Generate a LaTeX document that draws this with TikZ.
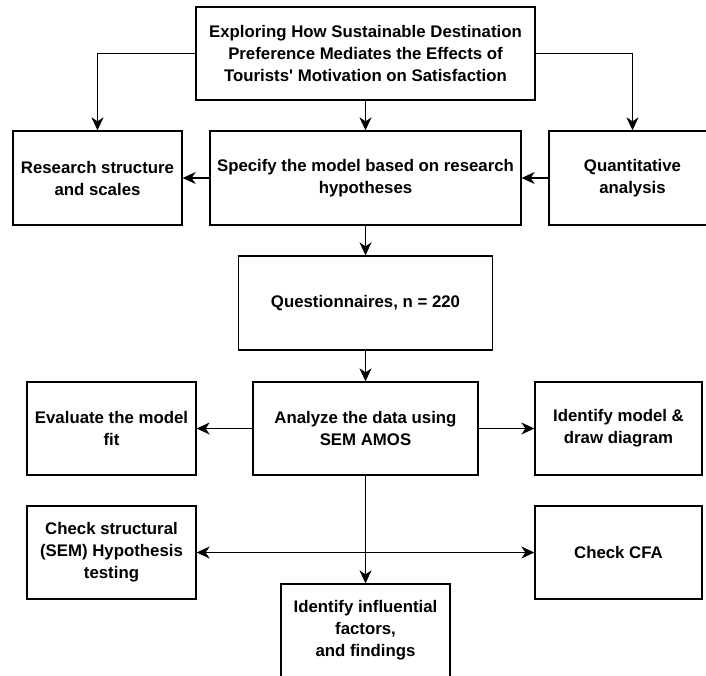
\documentclass[tikz,border=0pt]{standalone}
\usepackage{fontspec}
\setmainfont{Liberation Sans}
\usetikzlibrary{arrows.meta}

\begin{document}
\begin{tikzpicture}[x=1pt, y=-1pt,
    box/.style={draw, line width=1.3pt, align=center, inner sep=0pt, minimum height=93pt,
        font=\bfseries\fontsize{16.8}{22}\selectfont},
    link/.style={line width=1.1pt, -{Stealth[length=13pt, width=12pt, inset=4pt]}},
    twolink/.style={line width=1.1pt, {Stealth[length=13pt, width=12pt, inset=4pt]}-{Stealth[length=13pt, width=12pt, inset=4pt]}}]
    \useasboundingbox (0,0) rectangle (706,675);
    % title and first row
    \node[box, minimum width=339pt] (title) at (365.5,53.5)
        {Exploring How Sustainable Destination\\Preference Mediates the Effects of\\Tourists\textquotesingle{} Motivation on Satisfaction};
    \node[box, minimum width=169pt, minimum height=94pt] (research) at (97.5,178) {Research structure\\and scales};
    \node[box, minimum width=311pt, minimum height=94pt] (specify) at (365.5,178) {Specify the model based on research\\hypotheses};
    \node[box, minimum width=167pt, minimum height=94pt] (quant) at (632.5,178) {Quantitative\\analysis};
    \node[box, minimum width=254pt, minimum height=94pt] (quest) at (365.5,303) {Questionnaires, n = 220};
    % analysis rows
    \node[box, minimum width=169pt] (eval) at (111.5,428.5) {Evaluate the model\\fit};
    \node[box, minimum width=225pt] (analyze) at (365.5,428.5) {Analyze the data using\\SEM AMOS};
    \node[box, minimum width=167pt] (idmodel) at (618.5,428.5) {Identify model \&\\draw diagram};
    \node[box, minimum width=169pt] (check) at (111.5,552.5) {Check structural\\(SEM) Hypothesis\\testing};
    \node[box, minimum width=167pt] (cfa) at (618.5,552.5) {Check CFA};
    \node[box, minimum width=169pt] (influ) at (365.5,630.5) {Identify influential\\factors,\\and findings};
    % connectors
    \foreach \a/\b in {title/specify, specify/research, quant/specify, specify/quest,
        quest/analyze, analyze/eval, analyze/idmodel, analyze/influ} {
        \draw[link] (\a) -- (\b);
    }
    \draw[link] (title.west) -| (research.north);
    \draw[link] (title.east) -| (quant.north);
    \draw[twolink] (check) -- (cfa);
\end{tikzpicture}
\end{document}
